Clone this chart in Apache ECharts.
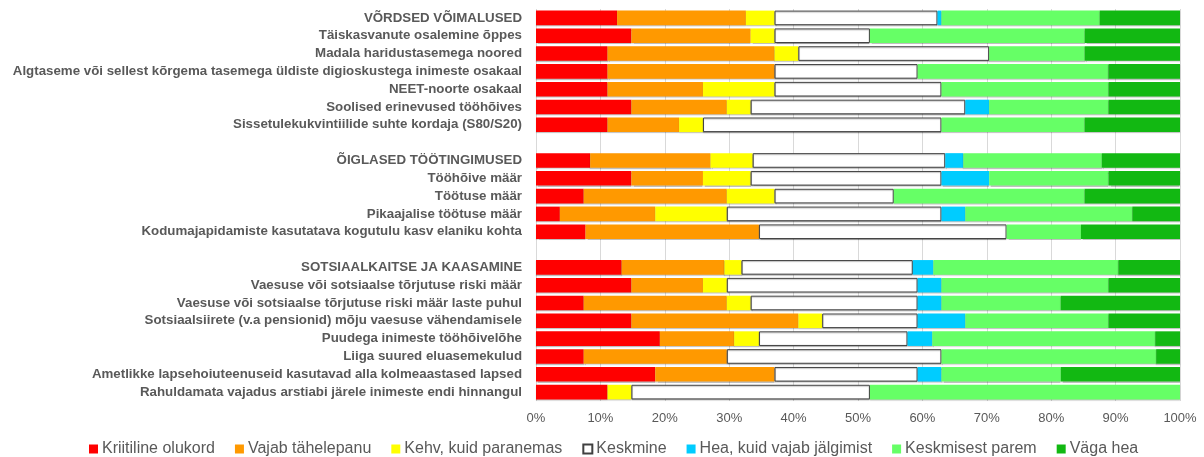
<!DOCTYPE html>
<html lang="et">
<head>
    <meta charset="UTF-8">
    <title>Sotsiaalõiguste tulemustabel</title>
    <script src="https://cdn.jsdelivr.net/npm/echarts@6.0.0/dist/echarts.min.js"></script>
    <style>
        html, body { margin: 0; padding: 0; background: #fff; }
        #chart { width: 1204px; height: 457px; }
    </style>
</head>
<body>
    <div id="chart"></div>
    <script>
        // ridade nimed ülalt alla ('' ja ' ' on tühjad vaheread)
        const categories = [
            'VÕRDSED VÕIMALUSED',
            'Täiskasvanute osalemine õppes',
            'Madala haridustasemega noored',
            'Algtaseme või sellest kõrgema tasemega üldiste digioskustega inimeste osakaal',
            'NEET-noorte osakaal',
            'Soolised erinevused tööhõives',
            'Sissetulekukvintiilide suhte kordaja (S80/S20)',
            '',
            'ÕIGLASED TÖÖTINGIMUSED',
            'Tööhõive määr',
            'Töötuse määr',
            'Pikaajalise töötuse määr',
            'Kodumajapidamiste kasutatava kogutulu kasv elaniku kohta',
            ' ',
            'SOTSIAALKAITSE JA KAASAMINE',
            'Vaesuse või sotsiaalse tõrjutuse riski määr',
            'Vaesuse või sotsiaalse tõrjutuse riski määr laste puhul',
            'Sotsiaalsiirete (v.a pensionid) mõju vaesuse vähendamisele',
            'Puudega inimeste tööhõivelõhe',
            'Liiga suured eluasemekulud',
            'Ametlikke lapsehoiuteenuseid kasutavad alla kolmeaastased lapsed',
            'Rahuldamata vajadus arstiabi järele inimeste endi hinnangul'
        ];

        // riikide arv igas hinnangus (koondridadel summa)
        const kriitiline = [20.4, 4, 3, 3, 3, 4, 3, null, 9, 4, 2, 1, 2, null, 25, 4, 2, 4, 5, 2, 5, 3];
        const vajab      = [32.4, 5, 7, 7, 4, 4, 3, null, 20, 3, 6, 4, 7, null, 30, 3, 6, 7, 3, 6, 5, 0];
        const kehv       = [7.2, 1, 1, 0, 3, 1, 1, null, 7, 2, 2, 3, 0, null, 5, 1, 1, 1, 1, 0, 0, 1];
        const keskmine   = [41, 4, 8, 6, 7, 9, 10, null, 32, 8, 5, 9, 10, null, 50, 8, 7, 4, 6, 9, 6, 10];
        const hea        = [1, 0, 0, 0, 0, 1, 0, null, 3, 2, 0, 1, 0, null, 6, 1, 1, 2, 1, 0, 1, 0];
        const parem      = [39.8, 9, 4, 8, 7, 5, 6, null, 23, 5, 8, 7, 3, null, 54, 7, 5, 6, 9, 9, 5, 13];
        const vagaHea    = [20.2, 4, 4, 3, 3, 3, 4, null, 13, 3, 4, 2, 4, null, 18, 3, 5, 3, 1, 1, 5, 0];

        const xTicks = [0, 10, 20, 30, 40, 50, 60, 70, 80, 90, 100];

        const seriesDefs = [
            { name: 'Kriitiline olukord', data: kriitiline, color: '#FF0000' },
            { name: 'Vajab tähelepanu', data: vajab, color: '#FF9900' },
            { name: 'Kehv, kuid paranemas', data: kehv, color: '#FFFF00' },
            { name: 'Keskmine', data: keskmine, color: '#FFFFFF', border: '#404040' },
            { name: 'Hea, kuid vajab jälgimist', data: hea, color: '#00CCFF' },
            { name: 'Keskmisest parem', data: parem, color: '#66FF66' },
            { name: 'Väga hea', data: vagaHea, color: '#12B812' }
        ];

        // 100% tulpade jaoks rea summa
        const totals = categories.map((c, i) =>
            seriesDefs.reduce((s, d) => s + (d.data[i] || 0), 0));

        const chart = echarts.init(document.getElementById('chart'));
        const textColor = '#595959';
        const font = 'Liberation Sans, Arial, sans-serif';

        chart.setOption({
            animation: false,
            textStyle: { fontFamily: font },
            grid: { left: 536, right: 24, top: 9, bottom: 56, containLabel: false },
            legend: {
                left: 84,
                top: 436,
                icon: 'rect',
                itemWidth: 9,
                itemHeight: 9,
                itemGap: 20,
                textStyle: { color: textColor, fontSize: 16, fontFamily: font, padding: [0, 0, 0, -1] },
                data: seriesDefs.map(d => d.name)
            },
            xAxis: {
                type: 'value',
                min: xTicks[0],
                max: xTicks[xTicks.length - 1],
                interval: 10,
                axisLine: { show: false },
                axisTick: { show: false },
                splitLine: { lineStyle: { color: '#D9D9D9', width: 1 } },
                axisLabel: {
                    color: textColor,
                    fontSize: 13,
                    margin: 11,
                    formatter: '{value}%'
                }
            },
            yAxis: {
                type: 'category',
                inverse: true,
                data: categories,
                axisLine: { show: false },
                axisTick: { show: false },
                axisLabel: {
                    color: textColor,
                    fontSize: 13.3,
                    fontWeight: 'bold',
                    margin: 14,
                    interval: 0
                }
            },
            series: seriesDefs.map(d => ({
                name: d.name,
                type: 'bar',
                stack: 'kokku',
                barCategoryGap: '18%',
                itemStyle: {
                    color: d.color,
                    borderColor: d.border || d.color,
                    borderWidth: d.border ? 1 : 0,
                    shadowColor: 'rgba(0,0,0,0.25)',
                    shadowOffsetY: 1,
                    shadowBlur: 1
                },
                emphasis: { disabled: true },
                data: d.data.map((v, i) => v == null ? null : v / totals[i] * 100)
            }))
        });
    </script>
</body>
</html>
